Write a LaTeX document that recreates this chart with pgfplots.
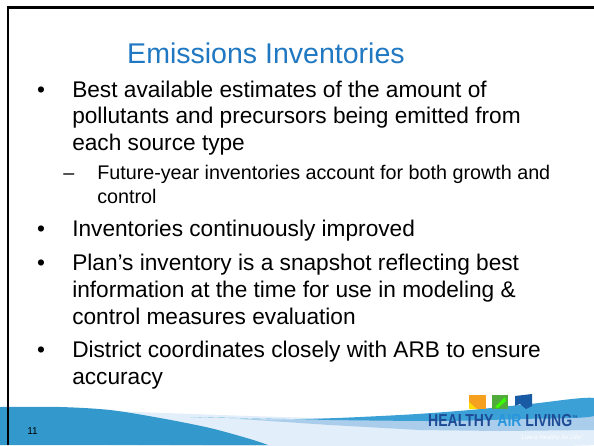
\documentclass[border=0pt]{standalone}
\usepackage{pgfplots}
\pgfplotsset{compat=1.18}
\usepackage{fontspec}
\setmainfont{Liberation Sans}

\definecolor{titleblue}{RGB}{31,120,193}
\definecolor{swdark}{RGB}{51,153,204}
\definecolor{swmid}{RGB}{59,160,214}
\definecolor{swmedlight}{RGB}{170,205,235}
\definecolor{swlight}{RGB}{226,238,249}
\definecolor{logonavy}{RGB}{30,75,150}
\definecolor{logoair}{RGB}{40,150,220}
\definecolor{logoorange}{RGB}{245,160,30}
\definecolor{logogreen}{RGB}{80,170,60}
\definecolor{logoblue}{RGB}{25,90,165}

\newcommand{\mainfs}{\fontsize{17}{19}\selectfont}
\newcommand{\subfs}{\fontsize{14.8}{16}\selectfont}

\begin{document}
\begin{tikzpicture}[every node/.style={inner sep=0pt}]
\begin{axis}[
    hide axis,
    scale only axis,
    width=445.5pt,
    height=333.75pt,
    xmin=0, xmax=594,
    ymin=0, ymax=445,
    y dir=reverse,
]

% page background
\addplot[fill=white, draw=none] coordinates {(0,0) (594,0) (594,445) (0,445)} -- cycle;

% footer swoosh
\addplot[fill=swlight, draw=none, smooth] coordinates {
    (110,411) (250,416) (400,420) (500,419) (594,417) (594,445) (110,445)} -- cycle;
\addplot[fill=swmedlight, draw=none] coordinates {
    (240,419) (330,420) (420,419) (510,416) (594,413) (594,430) (500,431) (420,430) (330,425)} -- cycle;
\addplot[fill=swmid, draw=none, smooth] coordinates {
    (190,417) (300,419) (400,415) (470,410) (530,404) (594,398)
    (594,416) (520,419) (440,421) (330,420)} -- cycle;
\addplot[fill=swdark, draw=none, smooth] coordinates {
    (0,407) (60,407) (110,410) (160,418) (210,428) (250,439) (268,445)} -- (axis cs:0,445) -- cycle;

% slide frame
\addplot[black, line width=1.9pt] coordinates {(8,445) (8,7.5) (594,7.5)};

% logo marks
\addplot[fill=logoorange, draw=none] coordinates {(469,395) (486,395) (486,409) (469,409)} -- cycle;
\addplot[fill=yellow!80!orange, draw=none] coordinates {(469,409) (469,402) (477,409)} -- cycle;
\addplot[fill=logogreen, draw=none] coordinates {(492,395) (508,395) (508,409) (492,409)} -- cycle;
\addplot[fill=green!70!lime, draw=none] coordinates {(495,407) (505,397) (506,401) (498,408)} -- cycle;
\addplot[fill=logoblue, draw=none] coordinates {(515,396) (532,394) (532,406) (526,409) (520,404) (515,406)} -- cycle;

% title
\node[anchor=base, text=titleblue, font=\fontsize{21.4}{24}\selectfont]
    at (axis cs:266,63) {Emissions Inventories};

% bullets
\node[anchor=base, font=\mainfs] at (axis cs:41,97) {•};
\node[anchor=base west, font=\mainfs] at (axis cs:72,97) {Best available estimates of the amount of};
\node[anchor=base west, font=\mainfs] at (axis cs:72,123.5) {pollutants and precursors being emitted from};
\node[anchor=base west, font=\mainfs] at (axis cs:72,150) {each source type};

\node[anchor=base west, font=\subfs] at (axis cs:63,179) {–};
\node[anchor=base west, font=\subfs] at (axis cs:97,179) {Future-year inventories account for both growth and};
\node[anchor=base west, font=\subfs] at (axis cs:97,203) {control};

\node[anchor=base, font=\mainfs] at (axis cs:41,236) {•};
\node[anchor=base west, font=\mainfs] at (axis cs:72,236) {Inventories continuously improved};

\node[anchor=base, font=\mainfs] at (axis cs:41,270) {•};
\node[anchor=base west, font=\mainfs] at (axis cs:72,270) {Plan’s inventory is a snapshot reflecting best};
\node[anchor=base west, font=\mainfs] at (axis cs:72,297) {information at the time for use in modeling \&};
\node[anchor=base west, font=\mainfs] at (axis cs:72,324) {control measures evaluation};

\node[anchor=base, font=\mainfs] at (axis cs:41,357) {•};
\node[anchor=base west, font=\mainfs] at (axis cs:72,357) {District coordinates closely with ARB to ensure};
\node[anchor=base west, font=\mainfs] at (axis cs:72,384) {accuracy};

% page number
\node[anchor=base west, font=\fontsize{7.5}{8}\selectfont] at (axis cs:27,434) {11};

% logo text
\node[anchor=base west, xscale=0.81, font=\fontsize{13}{14}\selectfont\bfseries]
    at (axis cs:428,426.5) {\textcolor{logonavy}{HEALTHY} \textcolor{logoair}{AIR} \textcolor{logonavy}{LIVING}\textsuperscript{\tiny\textcolor{logonavy}{™}}};
\node[anchor=base east, text=white, font=\fontsize{4.5}{5}\selectfont\itshape]
    at (axis cs:582,439) {Live a Healthy Air Life!};

\end{axis}
\end{tikzpicture}
\end{document}
